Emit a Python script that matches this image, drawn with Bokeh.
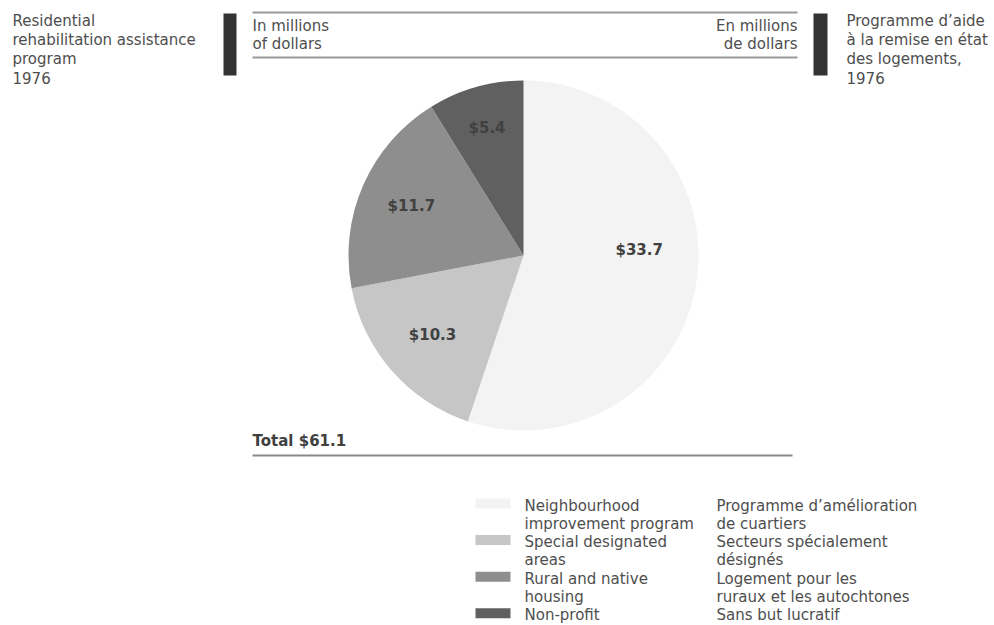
import math
from bokeh.plotting import figure
from bokeh.models import Range1d, ColumnDataSource
from bokeh.core.properties import value
from bokeh.embed import file_html
from bokeh.resources import INLINE

# Residential rehabilitation assistance program, 1976 (millions of dollars)
categories_en = ["Neighbourhood improvement program", "Special designated areas",
                 "Rural and native housing", "Non-profit"]
legend_en = [["Neighbourhood", "improvement program"], ["Special designated", "areas"],
             ["Rural and native", "housing"], ["Non-profit"]]
legend_fr = [["Programme d\u2019am\u00e9lioration", "de cuartiers"],
             ["Secteurs sp\u00e9cialement", "d\u00e9sign\u00e9s"],
             ["Logement pour les", "ruraux et les autochtones"],
             ["Sans but lucratif"]]
amounts = [33.7, 10.3, 11.7, 5.4]
colors = ["#f3f3f3", "#c6c6c6", "#8e8e8e", "#606060"]

title_en = ["Residential", "rehabilitation assistance", "program", "1976"]
title_fr = ["Programme d\u2019aide", "\u00e0 la remise en \u00e9tat", "des logements,", "1976"]
unit_en = ["In millions", "of dollars"]
unit_fr = ["En millions", "de dollars"]

W, H = 994, 625
FONT = value("DejaVu Sans")
INK = "#4e4e4e"
FS = "15px"


def Y(py):
    """Layout helper: distance from the top edge -> y coordinate."""
    return H - py


p = figure(width=W, height=H, output_backend="svg", toolbar_location=None,
           x_range=Range1d(0, W), y_range=Range1d(0, H),
           x_axis_location=None, y_axis_location=None, min_border=0)
p.outline_line_color = None
p.grid.visible = False
p.background_fill_color = "white"
p.border_fill_color = "white"


def lines(xs, texts, top, step, align="left", style="normal", size=FS, color=INK):
    p.text(x=[xs] * len(texts), y=[Y(top + i * step) for i in range(len(texts))],
           text=texts, text_font=FONT, text_font_size=size, text_color=color,
           text_align=align, text_baseline="middle", text_font_style=style)


# Headings and side bars
lines(12, title_en, 20, 19)
lines(846, title_fr, 20, 19)
p.quad(left=[223, 813], right=[236, 827], top=[Y(13), Y(13)], bottom=[Y(75), Y(75)],
       fill_color="#333333", line_color=None)

# Unit box rules and captions
p.segment(x0=[252, 252], x1=[797, 797], y0=[Y(12), Y(57)], y1=[Y(12), Y(57)],
          line_color="#9a9a9a", line_width=2)
lines(252, unit_en, 25, 18)
lines(797, unit_fr, 25, 18, align="right")

# Pie, clockwise from twelve o'clock
cx, cy, R = 523, Y(255), 175
total = sum(amounts)
cum = [0.0]
for a in amounts:
    cum.append(cum[-1] + a)
k = 2 * math.pi / total
starts = [math.pi / 2 - cum[i + 1] * k for i in range(len(amounts))]
ends = [math.pi / 2 - cum[i] * k for i in range(len(amounts))]
src = ColumnDataSource(dict(start=starts, end=ends, color=colors, cat=categories_en))
p.wedge(x=cx, y=cy, radius=R, start_angle="start", end_angle="end",
        fill_color="color", line_color=None, source=src)

# Value labels at each slice's middle angle
label_r = [0.67, 0.69, 0.70, 0.76]
label_nudge = [24, 0, 0, 0]
lx, ly, lt = [], [], []
for i, a in enumerate(amounts):
    mid = (starts[i] + ends[i]) / 2
    lx.append(cx + label_r[i] * R * math.cos(mid))
    ly.append(cy + label_r[i] * R * math.sin(mid) + label_nudge[i])
    lt.append(f"${a:.1f}")
p.text(x=lx, y=ly, text=lt, text_font=FONT, text_font_size=FS, text_color="#404040",
       text_align="center", text_baseline="middle", text_font_style="bold")

# Total line
p.text(x=[252], y=[Y(440)], text=[f"Total ${total:.1f}"], text_font=FONT,
       text_font_size=FS, text_color="#404040", text_align="left",
       text_baseline="middle", text_font_style="bold")
p.segment(x0=[252], x1=[792], y0=[Y(455)], y1=[Y(455)], line_color="#8a8a8a", line_width=2)

# Legend
row_top, row_step = 505, 18.3
row = 0
sw_y = []
en_rows, fr_rows = [], []
for en, fr in zip(legend_en, legend_fr):
    sw_y.append(row_top + row * row_step - 2)
    n = max(len(en), len(fr))
    for j in range(n):
        en_rows.append((row + j, en[j] if j < len(en) else ""))
        fr_rows.append((row + j, fr[j] if j < len(fr) else ""))
    row += n
p.rect(x=[492.5] * len(colors), y=[Y(v) for v in sw_y], width=35, height=10,
       fill_color=colors, line_color=None)
p.text(x=[524] * len(en_rows), y=[Y(row_top + r * row_step) for r, _ in en_rows],
       text=[t for _, t in en_rows], text_font=FONT, text_font_size=FS, text_color=INK,
       text_align="left", text_baseline="middle")
p.text(x=[716] * len(fr_rows), y=[Y(row_top + r * row_step) for r, _ in fr_rows],
       text=[t for _, t in fr_rows], text_font=FONT, text_font_size=FS, text_color=INK,
       text_align="left", text_baseline="middle")

open("out.html", "w").write(file_html(p, INLINE))
